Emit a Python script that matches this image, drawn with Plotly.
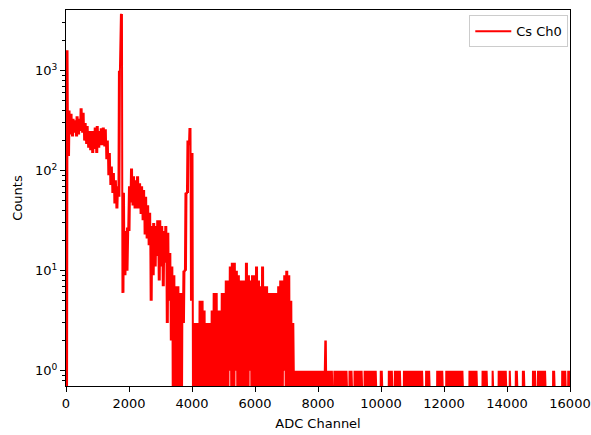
import plotly.graph_objects as go

# ---------------- data ----------------
series_name = "Cs Ch0"

# Spectrum 0..7232 in 64-channel bins: per-bin maximum and minimum counts
CHANNEL_BIN = 64
bin_max = [
    1600, 400, 370, 330, 320, 350, 330, 420, 380, 300,
    280, 250, 250, 250, 270, 280, 250, 265, 270, 260,
    200, 150, 110, 95, 80, 70, 1000, 3700, 60, 25,
    27, 70, 105, 88, 80, 88, 75, 70, 64, 55,
    45, 38, 28, 30, 28, 32, 32, 28, 25, 28,
    24, 15, 11, 9, 7, 7, 6, 6, 10, 60,
    200, 267, 150, 3, 3, 3, 5, 5, 4, 3,
    3, 3, 4, 6, 6, 4, 4, 6, 6, 8,
    8, 11, 12, 12, 10, 9, 8, 8, 8, 12,
    9, 8, 9, 9, 11, 8, 7, 11, 7, 7,
    6, 6, 6, 6, 6, 7, 8, 8, 9, 10,
    9, 5, 3,
]
bin_min = [
    0, 140, 230, 220, 240, 220, 230, 250, 240, 200,
    185, 170, 160, 150, 165, 150, 170, 180, 180, 175,
    130, 90, 72, 60, 47, 42, 55, 2000, 6, 9,
    10, 25, 48, 45, 42, 42, 42, 37, 32, 23,
    21, 18, 5, 9, 11, 14, 8, 11, 7, 12,
    3, 5, 2, 0, 0, 0, 0, 0, 3, 10,
    60, 180, 5, 0, 0, 0, 0, 0, 0, 0,
    0, 0, 0, 0, 0, 0, 0, 0, 0, 0,
    0, 1, 0, 0, 1, 0, 0, 0, 0, 0,
    0, 1, 0, 0, 0, 0, 0, 0, 0, 0,
    0, 0, 0, 0, 0, 0, 0, 0, 1, 0,
    0, 0, 0,
]

# Tail 7232..16000 in 32-channel columns, run-length encoded as (count, columns)
TAIL_START = 7232
TAIL_BIN = 32
tail_runs = [
    (1, 31), (2, 1), (1, 6), (0, 2), (1, 13), (0, 2), (1, 3), (0, 2), (1, 8), (0, 2),
    (1, 12), (0, 4), (1, 2), (0, 6), (1, 4), (0, 2), (1, 6), (0, 3), (1, 19), (0, 3),
    (1, 4), (0, 7), (1, 6), (0, 3), (1, 17), (0, 6), (1, 8), (0, 5), (1, 5), (0, 5),
    (1, 1), (0, 5), (1, 8), (0, 3), (1, 1), (0, 5), (1, 2), (0, 5), (1, 2), (0, 8),
    (1, 3), (0, 2), (1, 8), (0, 7), (1, 2), (0, 7), (1, 4), (0, 2), (1, 2),
]

x_ticks = [0, 2000, 4000, 6000, 8000, 10000, 12000, 14000, 16000]
x_tick_text = ["0", "2000", "4000", "6000", "8000", "10000", "12000", "14000", "16000"]
y_ticks = [1, 10, 100, 1000]
y_tick_text = ["10<sup>0</sup>", "10<sup>1</sup>", "10<sup>2</sup>", "10<sup>3</sup>"]
y_minor = [0.7, 0.8, 0.9] + [m * 10 ** k for k in range(0, 4) for m in range(2, 10) if m * 10 ** k < 4000]

# ---------------- build the dense line (min/max per bin, like a raw spectrum) ----------------
ZERO_DRAW = 0.3  # zero counts drawn below the log axis floor (clipped), like matplotlib
xs, ys = [], []


def add_bin(lo, width, mn, mx):
    for frac, v in ((0.0, mn), (0.25, mx), (0.5, mn), (0.75, mx)):
        xs.append(lo + frac * width)
        ys.append(v if v > 0 else ZERO_DRAW)


for i, (mx, mn) in enumerate(zip(bin_max, bin_min)):
    add_bin(i * CHANNEL_BIN, CHANNEL_BIN, mn, mx)

col = 0
for cnt, n in tail_runs:
    for _ in range(n):
        add_bin(TAIL_START + col * TAIL_BIN, TAIL_BIN, 0, cnt)
        col += 1

FONT = "DejaVu Sans"

fig = go.Figure()
fig.add_trace(go.Scatter(
    x=xs, y=ys, mode="lines", name=series_name,
    line=dict(color="#ff0000", width=2),
    showlegend=True,
))

axis_common = dict(
    showline=True, linecolor="black", linewidth=1, mirror=True,
    ticks="outside", ticklen=5, tickwidth=1, tickcolor="black",
    showgrid=False, zeroline=False, automargin=False,
    tickfont=dict(family=FONT, size=13, color="black"),
)

fig.update_layout(
    width=591, height=435,
    margin=dict(l=66, r=21, t=10, b=49),
    paper_bgcolor="white", plot_bgcolor="white",
    font=dict(family=FONT, size=13, color="black"),
    xaxis=dict(
        range=[0, 16000], tickmode="array", tickvals=x_ticks, ticktext=x_tick_text,
        title=dict(text="ADC Channel", font=dict(family=FONT, size=13), standoff=9),
        **axis_common,
    ),
    yaxis=dict(
        type="log", range=[-0.153, 3.607], tickmode="array",
        tickvals=y_ticks, ticktext=y_tick_text,
        minor=dict(tickmode="array", tickvals=y_minor, ticks="outside", ticklen=3, tickcolor="black"),
        title=dict(text="Counts", font=dict(family=FONT, size=13), standoff=9),
        **axis_common,
    ),
    legend=dict(
        x=0.9966, y=0.986, xanchor="right", yanchor="top",
        bgcolor="white", bordercolor="#cccccc", borderwidth=1,
        font=dict(family=FONT, size=13, color="black"),
        itemwidth=36,
    ),
)

fig.write_html(
    "out.html",
    config={"displayModeBar": False},
    post_script="document.body.style.margin='0';document.body.style.padding='0';",
)
